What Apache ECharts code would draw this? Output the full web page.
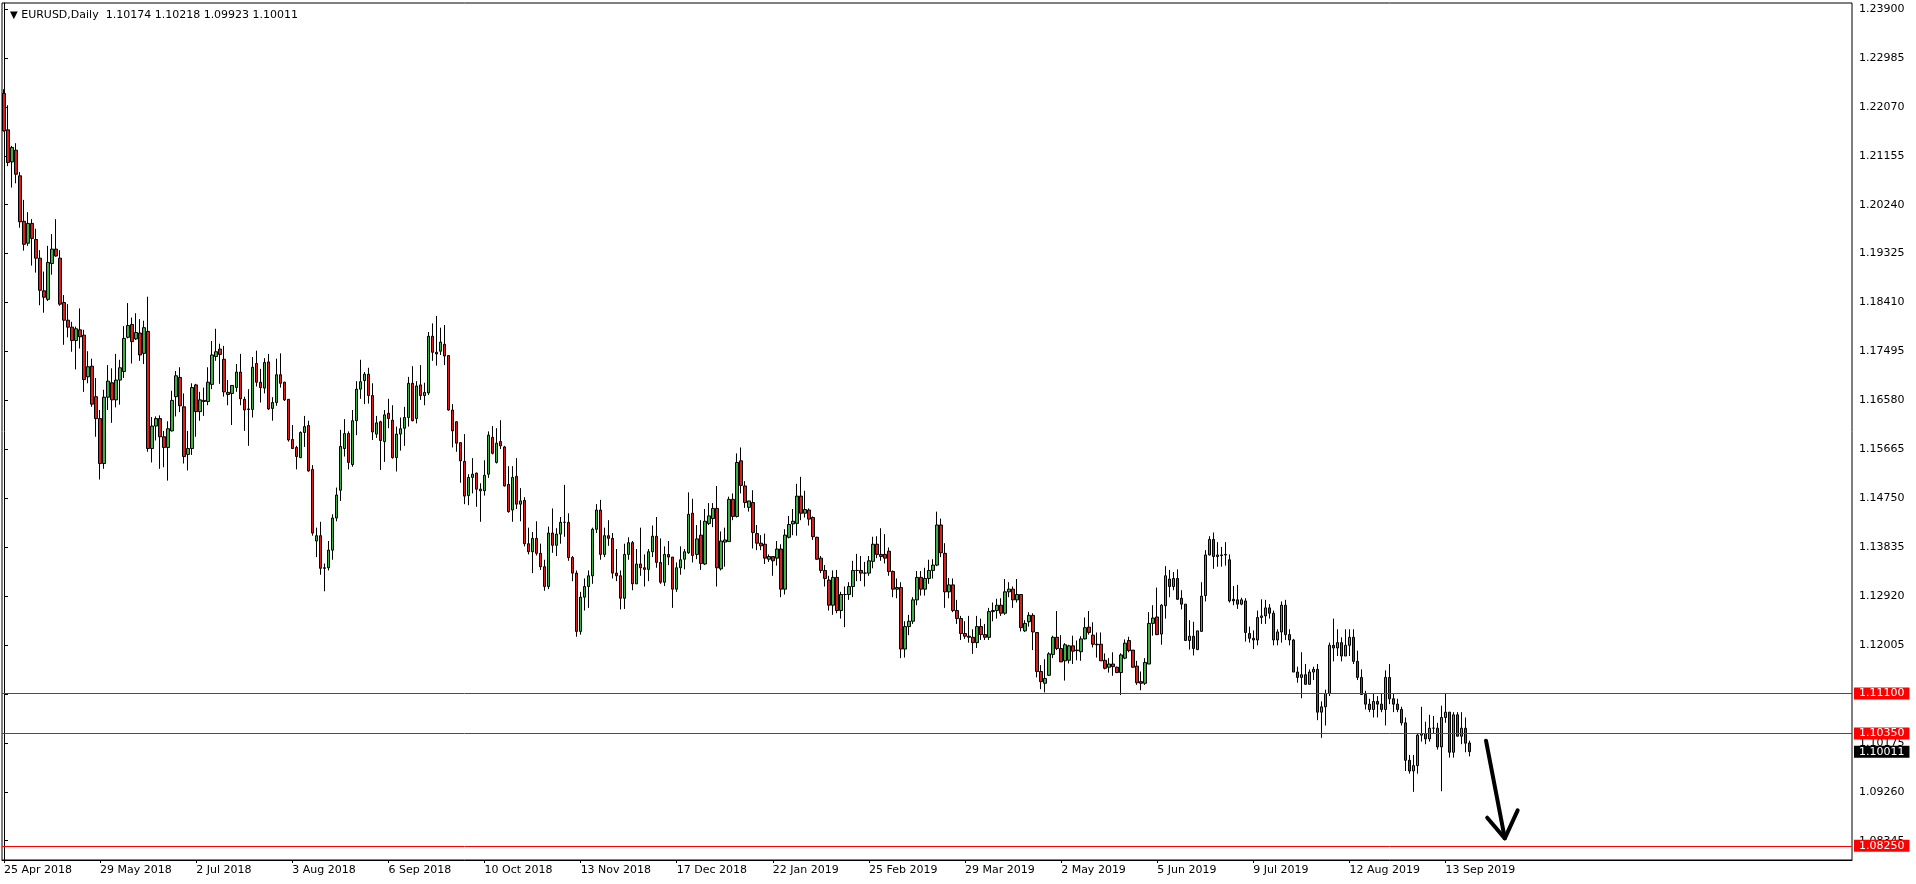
<!DOCTYPE html>
<html><head><meta charset="utf-8">
<script src="https://cdn.jsdelivr.net/npm/echarts@6/dist/echarts.min.js"></script>
<style>html,body{margin:0;padding:0;background:#fff;overflow:hidden}#c{width:1916px;height:884px}</style>
</head><body><div id="c"></div>
<script>
// ---- categories (trading days) ----
const firstDay = '2018-04-25';
const skipDays = ['2018-12-25', '2019-01-01'];
const futureSlots = 95;
const labelEvery = 24;
const monthNames = ['Jan','Feb','Mar','Apr','May','Jun','Jul','Aug','Sep','Oct','Nov','Dec'];

// ---- series values (OHLC) ----
const openP = [
1.2232,1.2164,1.2104,1.2126,1.2078,1.1993,1.1952,1.1989,1.1959,1.1924,
1.1863,1.1847,1.1914,1.1941,1.1924,1.1841,1.1808,1.1795,1.1770,1.1790,
1.1780,1.1702,1.1722,1.1665,1.1624,1.1540,1.1664,1.1691,1.1659,1.1696,
1.1712,1.1776,1.1800,1.1773,1.1784,1.1746,1.1787,1.1568,1.1610,1.1624,
1.1590,1.1570,1.1601,1.1665,1.1701,1.1646,1.1557,1.1568,1.1687,1.1637,
1.1658,1.1656,1.1688,1.1740,1.1754,1.1735,1.1673,1.1671,1.1682,1.1711,
1.1660,1.1641,1.1641,1.1727,1.1692,1.1681,1.1730,1.1643,1.1654,1.1706,
1.1692,1.1660,1.1585,1.1570,1.1551,1.1598,1.1611,1.1529,1.1395,1.1405,
1.1344,1.1345,1.1378,1.1438,1.1490,1.1568,1.1596,1.1538,1.1620,1.1679,
1.1695,1.1707,1.1667,1.1595,1.1618,1.1581,1.1634,1.1621,1.1551,1.1595,
1.1606,1.1626,1.1690,1.1624,1.1687,1.1667,1.1672,1.1778,1.1748,1.1750,
1.1763,1.1742,1.1640,1.1618,1.1579,1.1544,1.1480,1.1514,1.1522,1.1489,
1.1489,1.1520,1.1589,1.1542,1.1581,1.1571,1.1501,1.1453,1.1516,1.1464,
1.1471,1.1390,1.1375,1.1400,1.1372,1.1347,1.1310,1.1410,1.1387,1.1408,
1.1430,1.1430,1.1364,1.1335,1.1226,1.1290,1.1310,1.1330,1.1417,1.1453,
1.1370,1.1405,1.1400,1.1335,1.1330,1.1288,1.1370,1.1392,1.1315,1.1352,
1.1345,1.1342,1.1375,1.1404,1.1355,1.1318,1.1370,1.1365,1.1305,1.1345,
1.1361,1.1373,1.1447,1.1370,1.1406,1.1352,1.1428,1.1437,1.1456,1.1343,
1.1393,1.1394,1.1473,1.1441,1.1545,1.1498,1.1458,1.1467,1.1409,1.1391,
1.1389,1.1361,1.1366,1.1363,1.1380,1.1305,1.1402,1.1427,1.1428,1.1479,
1.1447,1.1453,1.1439,1.1402,1.1363,1.1340,1.1322,1.1275,1.1327,1.1265,
1.1295,1.1295,1.1310,1.1340,1.1340,1.1335,1.1335,1.1357,1.1389,1.1370,
1.1370,1.1376,1.1338,1.1305,1.1308,1.1193,1.1235,1.1245,1.1285,1.1327,
1.1305,1.1325,1.1340,1.1350,1.1425,1.1372,1.1300,1.1313,1.1265,1.1250,
1.1222,1.1217,1.1215,1.1205,1.1235,1.1220,1.1215,1.1263,1.1265,1.1275,
1.1260,1.1300,1.1305,1.1285,1.1295,1.1227,1.1244,1.1256,1.1224,1.1151,
1.1129,1.1144,1.1183,1.1215,1.1194,1.1171,1.1172,1.1199,1.1191,1.1188,
1.1212,1.1234,1.1219,1.1202,1.1202,1.1172,1.1159,1.1165,1.1159,1.1149,
1.1176,1.1209,1.1191,1.1161,1.1132,1.1129,1.1165,1.1241,1.1253,1.1221,
1.1274,1.1324,1.1310,1.1325,1.1288,1.1277,1.1209,1.1217,1.1192,1.1226,
1.1293,1.1369,1.1398,1.1366,1.1369,1.1369,1.1360,1.1286,1.1285,1.1277,
1.1283,1.1222,1.1213,1.1210,1.1252,1.1255,1.1270,1.1260,1.1210,1.1225,
1.1275,1.1220,1.1210,1.1150,1.1140,1.1145,1.1127,1.1150,1.1155,1.1075,
1.1085,1.1110,1.1200,1.1195,1.1205,1.1180,1.1200,1.1215,1.1170,1.1140,
1.1108,1.1090,1.1080,1.1095,1.1090,1.1080,1.1140,1.1100,1.1090,1.1080,
1.1055,1.0985,1.0965,1.0975,1.1032,1.1035,1.1025,1.1045,1.1045,1.1010,
1.1065,1.1075,1.1000,1.1070,1.1030,1.1045,1.10174];
const highP = [
1.2240,1.2210,1.2134,1.2139,1.2085,1.2033,1.2010,1.1997,1.1979,1.1939,
1.1899,1.1947,1.1969,1.1997,1.1939,1.1855,1.1838,1.1805,1.1796,1.1830,
1.1790,1.1750,1.1736,1.1700,1.1640,1.1678,1.1724,1.1718,1.1745,1.1734,
1.1797,1.1840,1.1813,1.1821,1.1810,1.1807,1.1852,1.1627,1.1628,1.1630,
1.1601,1.1619,1.1676,1.1713,1.1720,1.1671,1.1601,1.1690,1.1689,1.1674,
1.1682,1.1720,1.1769,1.1792,1.1764,1.1760,1.1696,1.1686,1.1726,1.1745,
1.1665,1.1679,1.1739,1.1751,1.1717,1.1737,1.1745,1.1664,1.1736,1.1746,
1.1693,1.1660,1.1612,1.1573,1.1600,1.1629,1.1620,1.1537,1.1420,1.1431,
1.1353,1.1395,1.1445,1.1495,1.1603,1.1623,1.1600,1.1640,1.1694,1.1734,
1.1711,1.1719,1.1690,1.1629,1.1620,1.1640,1.1661,1.1649,1.1609,1.1626,
1.1646,1.1702,1.1722,1.1694,1.1724,1.1691,1.1786,1.1802,1.1816,1.1794,
1.1799,1.1742,1.1651,1.1619,1.1579,1.1595,1.1520,1.1550,1.1523,1.1503,
1.1546,1.1600,1.1610,1.1606,1.1621,1.1573,1.1535,1.1535,1.1550,1.1494,
1.1477,1.1420,1.1412,1.1432,1.1390,1.1360,1.1422,1.1456,1.1419,1.1440,
1.1500,1.1447,1.1367,1.1340,1.1300,1.1325,1.1340,1.1420,1.1464,1.1472,
1.1420,1.1434,1.1410,1.1380,1.1340,1.1390,1.1402,1.1395,1.1380,1.1420,
1.1370,1.1380,1.1424,1.1440,1.1400,1.1385,1.1395,1.1365,1.1355,1.1385,
1.1380,1.1486,1.1474,1.1425,1.1434,1.1455,1.1466,1.1466,1.1498,1.1413,
1.1420,1.1478,1.1484,1.1559,1.1570,1.1507,1.1470,1.1490,1.1425,1.1406,
1.1409,1.1370,1.1366,1.1395,1.1389,1.1417,1.1442,1.1455,1.1502,1.1515,
1.1489,1.1456,1.1441,1.1403,1.1367,1.1350,1.1330,1.1340,1.1341,1.1300,
1.1310,1.1318,1.1358,1.1371,1.1367,1.1356,1.1367,1.1403,1.1404,1.1419,
1.1408,1.1383,1.1340,1.1325,1.1318,1.1245,1.1257,1.1290,1.1339,1.1339,
1.1345,1.1360,1.1361,1.1450,1.1437,1.1391,1.1326,1.1325,1.1285,1.1255,
1.1245,1.1255,1.1230,1.1255,1.1250,1.1240,1.1270,1.1280,1.1287,1.1288,
1.1324,1.1318,1.1310,1.1324,1.1294,1.1247,1.1262,1.1260,1.1225,1.1163,
1.1174,1.1187,1.1218,1.1264,1.1219,1.1204,1.1201,1.1218,1.1209,1.1217,
1.1252,1.1264,1.1243,1.1224,1.1224,1.1185,1.1176,1.1187,1.1160,1.1185,
1.1211,1.1216,1.1191,1.1171,1.1151,1.1176,1.1262,1.1275,1.1308,1.1277,
1.1348,1.1341,1.1337,1.1342,1.1303,1.1277,1.1247,1.1244,1.1227,1.1318,
1.1378,1.1404,1.1411,1.1393,1.1384,1.1393,1.1370,1.1311,1.1313,1.1289,
1.1288,1.1235,1.1228,1.1265,1.1286,1.1285,1.1277,1.1265,1.1230,1.1282,
1.1285,1.1230,1.1212,1.1160,1.1187,1.1165,1.1155,1.1160,1.1165,1.1095,
1.1117,1.1205,1.1250,1.1230,1.1215,1.1230,1.1230,1.1230,1.1190,1.1155,
1.1115,1.1100,1.1110,1.1105,1.1110,1.1153,1.1165,1.1110,1.1100,1.1085,
1.1065,1.0995,1.0995,1.1035,1.1085,1.1057,1.1070,1.1068,1.1055,1.1087,
1.1109,1.1075,1.1075,1.1075,1.1075,1.1065,1.10218];
const lowP = [
1.2161,1.2096,1.2056,1.2064,1.1981,1.1938,1.1947,1.1910,1.1897,1.1836,
1.1822,1.1844,1.1893,1.1927,1.1835,1.1762,1.1776,1.1749,1.1716,1.1755,
1.1674,1.1690,1.1646,1.1590,1.1510,1.1530,1.1640,1.1616,1.1645,1.1650,
1.1700,1.1774,1.1727,1.1771,1.1732,1.1726,1.1562,1.1542,1.1583,1.1530,
1.1533,1.1508,1.1600,1.1628,1.1636,1.1540,1.1527,1.1556,1.1590,1.1620,
1.1629,1.1649,1.1679,1.1732,1.1689,1.1665,1.1649,1.1612,1.1674,1.1649,
1.1601,1.1573,1.1626,1.1684,1.1654,1.1671,1.1640,1.1620,1.1648,1.1682,
1.1657,1.1581,1.1567,1.1529,1.1550,1.1571,1.1525,1.1405,1.1365,1.1332,
1.1301,1.1340,1.1360,1.1432,1.1470,1.1553,1.1529,1.1534,1.1593,1.1661,
1.1651,1.1652,1.1584,1.1588,1.1528,1.1543,1.1606,1.1549,1.1525,1.1564,
1.1573,1.1609,1.1619,1.1615,1.1659,1.1649,1.1668,1.1732,1.1723,1.1743,
1.1724,1.1639,1.1570,1.1562,1.1504,1.1464,1.1462,1.1484,1.1459,1.1431,
1.1480,1.1513,1.1557,1.1540,1.1567,1.1497,1.1448,1.1431,1.1455,1.1432,
1.1385,1.1370,1.1335,1.1368,1.1341,1.1302,1.1305,1.1373,1.1367,1.1390,
1.1403,1.1358,1.1320,1.1216,1.1220,1.1265,1.1270,1.1315,1.1410,1.1360,
1.1365,1.1386,1.1325,1.1320,1.1267,1.1268,1.1360,1.1303,1.1315,1.1330,
1.1310,1.1320,1.1365,1.1345,1.1315,1.1311,1.1350,1.1270,1.1300,1.1332,
1.1342,1.1371,1.1355,1.1361,1.1341,1.1350,1.1425,1.1421,1.1310,1.1340,
1.1347,1.1394,1.1434,1.1439,1.1484,1.1457,1.1450,1.1381,1.1378,1.1378,
1.1352,1.1356,1.1330,1.1349,1.1290,1.1295,1.1400,1.1406,1.1405,1.1434,
1.1439,1.1424,1.1397,1.1360,1.1335,1.1310,1.1265,1.1257,1.1260,1.1250,
1.1234,1.1285,1.1290,1.1320,1.1320,1.1310,1.1330,1.1344,1.1363,1.1358,
1.1353,1.1330,1.1290,1.1288,1.1176,1.1177,1.1219,1.1240,1.1275,1.1293,
1.1293,1.1315,1.1325,1.1348,1.1365,1.1270,1.1288,1.1262,1.1240,1.1210,
1.1212,1.1205,1.1184,1.1195,1.1210,1.1210,1.1210,1.1245,1.1250,1.1255,
1.1257,1.1290,1.1270,1.1280,1.1226,1.1225,1.1235,1.1191,1.1140,1.1118,
1.1112,1.1143,1.1176,1.1191,1.1169,1.1134,1.1166,1.1165,1.1172,1.1171,
1.1211,1.1220,1.1196,1.1177,1.1171,1.1155,1.1149,1.1143,1.1148,1.1107,
1.1174,1.1187,1.1158,1.1126,1.1116,1.1126,1.1165,1.1218,1.1219,1.1201,
1.1250,1.1290,1.1303,1.1285,1.1267,1.1208,1.1192,1.1181,1.1191,1.1226,
1.1282,1.1368,1.1343,1.1347,1.1347,1.1349,1.1280,1.1275,1.1268,1.1275,
1.1207,1.1205,1.1193,1.1200,1.1240,1.1240,1.1250,1.1200,1.1200,1.1205,
1.1210,1.1200,1.1150,1.1130,1.1101,1.1127,1.1127,1.1135,1.1060,1.1027,
1.1050,1.1105,1.1170,1.1180,1.1170,1.1180,1.1180,1.1165,1.1135,1.1107,
1.1080,1.1075,1.1065,1.1065,1.1075,1.1050,1.1090,1.1075,1.1075,1.1050,
1.0965,1.0960,1.0926,1.0960,1.1020,1.1015,1.1020,1.1035,1.1005,1.0927,
1.1055,1.0990,1.0990,1.1030,1.1015,1.1000,1.09923];
const closeP = [
1.2162,1.2103,1.2131,1.2081,1.1992,1.1950,1.1989,1.1961,1.1924,1.1864,
1.1851,1.1916,1.1941,1.1928,1.1838,1.1808,1.1795,1.1770,1.1792,1.1777,
1.1697,1.1721,1.1651,1.1624,1.1540,1.1664,1.1694,1.1659,1.1696,1.1719,
1.1774,1.1798,1.1768,1.1785,1.1743,1.1794,1.1568,1.1610,1.1624,1.1590,
1.1570,1.1605,1.1658,1.1704,1.1648,1.1553,1.1568,1.1682,1.1637,1.1659,
1.1656,1.1692,1.1743,1.1749,1.1744,1.1674,1.1669,1.1686,1.1711,1.1661,
1.1640,1.1642,1.1720,1.1692,1.1682,1.1729,1.1642,1.1654,1.1706,1.1690,
1.1659,1.1584,1.1568,1.1553,1.1598,1.1609,1.1526,1.1410,1.1405,1.1344,
1.1345,1.1378,1.1438,1.1481,1.1572,1.1596,1.1542,1.1620,1.1679,1.1693,
1.1707,1.1667,1.1599,1.1616,1.1583,1.1631,1.1624,1.1551,1.1595,1.1605,
1.1626,1.1690,1.1620,1.1685,1.1667,1.1673,1.1778,1.1748,1.1745,1.1767,
1.1741,1.1640,1.1601,1.1578,1.1545,1.1479,1.1514,1.1520,1.1492,1.1492,
1.1518,1.1593,1.1559,1.1578,1.1573,1.1498,1.1450,1.1514,1.1464,1.1470,
1.1390,1.1375,1.1400,1.1372,1.1347,1.1310,1.1410,1.1387,1.1408,1.1430,
1.1430,1.1364,1.1335,1.1226,1.1290,1.1310,1.1330,1.1417,1.1453,1.1370,
1.1405,1.1400,1.1335,1.1330,1.1288,1.1370,1.1392,1.1315,1.1352,1.1345,
1.1342,1.1375,1.1404,1.1355,1.1318,1.1370,1.1365,1.1305,1.1345,1.1360,
1.1375,1.1445,1.1368,1.1399,1.1353,1.1432,1.1442,1.1456,1.1345,1.1395,
1.1397,1.1473,1.1441,1.1542,1.1499,1.1467,1.1470,1.1411,1.1391,1.1386,
1.1363,1.1366,1.1358,1.1380,1.1305,1.1406,1.1426,1.1432,1.1479,1.1447,
1.1454,1.1436,1.1403,1.1361,1.1340,1.1325,1.1275,1.1327,1.1265,1.1295,
1.1295,1.1310,1.1340,1.1340,1.1335,1.1335,1.1358,1.1389,1.1370,1.1366,
1.1363,1.1338,1.1305,1.1308,1.1193,1.1235,1.1245,1.1285,1.1327,1.1305,
1.1325,1.1340,1.1350,1.1425,1.1373,1.1300,1.1313,1.1265,1.1250,1.1222,
1.1217,1.1215,1.1205,1.1235,1.1220,1.1215,1.1263,1.1265,1.1275,1.1260,
1.1300,1.1305,1.1285,1.1295,1.1233,1.1241,1.1256,1.1225,1.1151,1.1132,
1.1138,1.1184,1.1215,1.1194,1.1169,1.1201,1.1199,1.1189,1.1190,1.1212,
1.1233,1.1224,1.1202,1.1201,1.1171,1.1157,1.1165,1.1160,1.1149,1.1182,
1.1204,1.1190,1.1159,1.1130,1.1129,1.1168,1.1241,1.1251,1.1220,1.1275,
1.1330,1.1310,1.1325,1.1286,1.1277,1.1209,1.1217,1.1194,1.1227,1.1292,
1.1369,1.1398,1.1366,1.1369,1.1368,1.1370,1.1283,1.1283,1.1277,1.1285,
1.1224,1.1213,1.1210,1.1252,1.1255,1.1270,1.1260,1.1210,1.1225,1.1275,
1.1220,1.1210,1.1150,1.1140,1.1145,1.1127,1.1150,1.1155,1.1075,1.1085,
1.1110,1.1200,1.1195,1.1205,1.1180,1.1200,1.1215,1.1170,1.1140,1.1108,
1.1090,1.1080,1.1095,1.1090,1.1080,1.1140,1.1100,1.1090,1.1080,1.1055,
1.0985,1.0965,1.0975,1.1032,1.1035,1.1025,1.1045,1.1045,1.1010,1.1065,
1.1075,1.1000,1.1070,1.1030,1.1045,1.1017,1.10011];

// ---- tick labels / levels ----
const priceTicks = [1.23900,1.22985,1.22070,1.21155,1.20240,1.19325,1.18410,1.17495,1.16580,
  1.15665,1.14750,1.13835,1.12920,1.12005,1.11090,1.10175,1.09260,1.08345];
const levelLines = [1.11100, 1.10350, 1.08250];
const symbolName = 'EURUSD,Daily';
// hand-drawn arrow annotation (bar index, price)
const arrowShaft = [[370.1, 1.10216], [374.8, 1.08390]];
const arrowHead = [[370.4, 1.08776], [374.8, 1.08390], [378.0, 1.08913]];

const nBars = closeP.length;
function tradingDays(n) {
  const out = [];
  const d = new Date(firstDay + 'T00:00:00Z');
  while (out.length < n) {
    const wd = d.getUTCDay();
    const iso = d.toISOString().slice(0, 10);
    if (wd !== 0 && wd !== 6 && skipDays.indexOf(iso) < 0) out.push(iso);
    d.setUTCDate(d.getUTCDate() + 1);
  }
  return out;
}
const dates = tradingDays(nBars);
const categories = dates.slice();
for (let k = 0; k < futureSlots; k++) categories.push('f' + k);
function fmtDate(iso) {
  const p = iso.split('-');
  return parseInt(p[2], 10) + ' ' + monthNames[parseInt(p[1], 10) - 1] + ' ' + p[0];
}
const candles = [];
for (let i = 0; i < nBars; i++) candles.push([openP[i], closeP[i], lowP[i], highP[i]]);
const last = nBars - 1;
const lastPrice = closeP[last];

const FONT = 'DejaVu Sans';
const chart = echarts.init(document.getElementById('c'), null, {renderer: 'canvas'});
const showLabel = (idx) => idx < nBars && idx % labelEvery === 0;
chart.setOption({
  animation: false,
  backgroundColor: '#ffffff',
  title: {
    left: 5, top: 5,
    text: '{t|▼} ' + symbolName + '  ' + [openP[last], highP[last], lowP[last], closeP[last]].map(v => v.toFixed(5)).join(' '),
    textStyle: {fontFamily: FONT, fontSize: 11, fontWeight: 'normal', color: '#000',
      rich: {t: {fontSize: 10, color: '#000', fontFamily: FONT}}}
  },
  grid: {left: 2, right: 64, top: 3, bottom: 24, show: true, borderColor: '#000', borderWidth: 1, containLabel: false},
  xAxis: [{
    type: 'category', data: categories, boundaryGap: true,
    axisLine: {show: true, lineStyle: {color: '#000', width: 1}},
    axisTick: {show: true, alignWithLabel: true, interval: showLabel, length: 3, inside: false, lineStyle: {color: '#000'}},
    axisLabel: {show: true, interval: showLabel, align: 'left', margin: 5, color: '#000', fontSize: 11, fontFamily: FONT,
      formatter: (v) => (v.charAt(0) === 'f' ? '' : fmtDate(v))},
    splitLine: {show: false}
  }, {
    type: 'value', min: -0.5, max: categories.length - 0.5, show: false
  }],
  yAxis: {
    type: 'value', position: 'right', min: 1.07985, max: 1.24012, scale: true,
    axisLine: {show: true, lineStyle: {color: '#000'}},
    axisTick: {show: true, length: 4, inside: false, customValues: priceTicks, lineStyle: {color: '#000'}},
    axisLabel: {show: true, customValues: priceTicks, margin: 7, color: '#000', fontSize: 11, fontFamily: FONT,
      formatter: (v) => v.toFixed(5)},
    splitLine: {show: false}
  },
  series: [{
    type: 'candlestick', data: candles, barWidth: 3, clip: false,
    itemStyle: {color: '#3CB043', color0: '#DD1C1C', borderColor: '#000', borderColor0: '#000', borderWidth: 1},
    markLine: {
      silent: true, symbol: ['none', 'none'], animation: false, precision: 5,
      label: {show: true, position: 'end', distance: 2, color: '#fff', backgroundColor: '#ff0000',
        padding: [0, 5, 0, 5], lineHeight: 12, fontSize: 11, fontFamily: FONT,
        formatter: (p) => Number(p.value).toFixed(5)},
      lineStyle: {color: '#ff0000', width: 1, type: 'solid'},
      data: levelLines.map(v => ({yAxis: v})).concat([{
        yAxis: lastPrice, lineStyle: {color: 'rgba(0,0,0,0)', width: 0},
        label: {backgroundColor: '#000000', color: '#ffffff', opacity: 1}
      }])
    }
  }, {
    type: 'line', xAxisIndex: 1, data: arrowShaft, symbol: 'none', silent: true, z: 5,
    lineStyle: {color: '#000', width: 4, cap: 'round'}
  }, {
    type: 'line', xAxisIndex: 1, data: arrowHead, symbol: 'none', silent: true, z: 5,
    lineStyle: {color: '#000', width: 4, cap: 'round', join: 'round'}
  }]
});
</script>
</body></html>
